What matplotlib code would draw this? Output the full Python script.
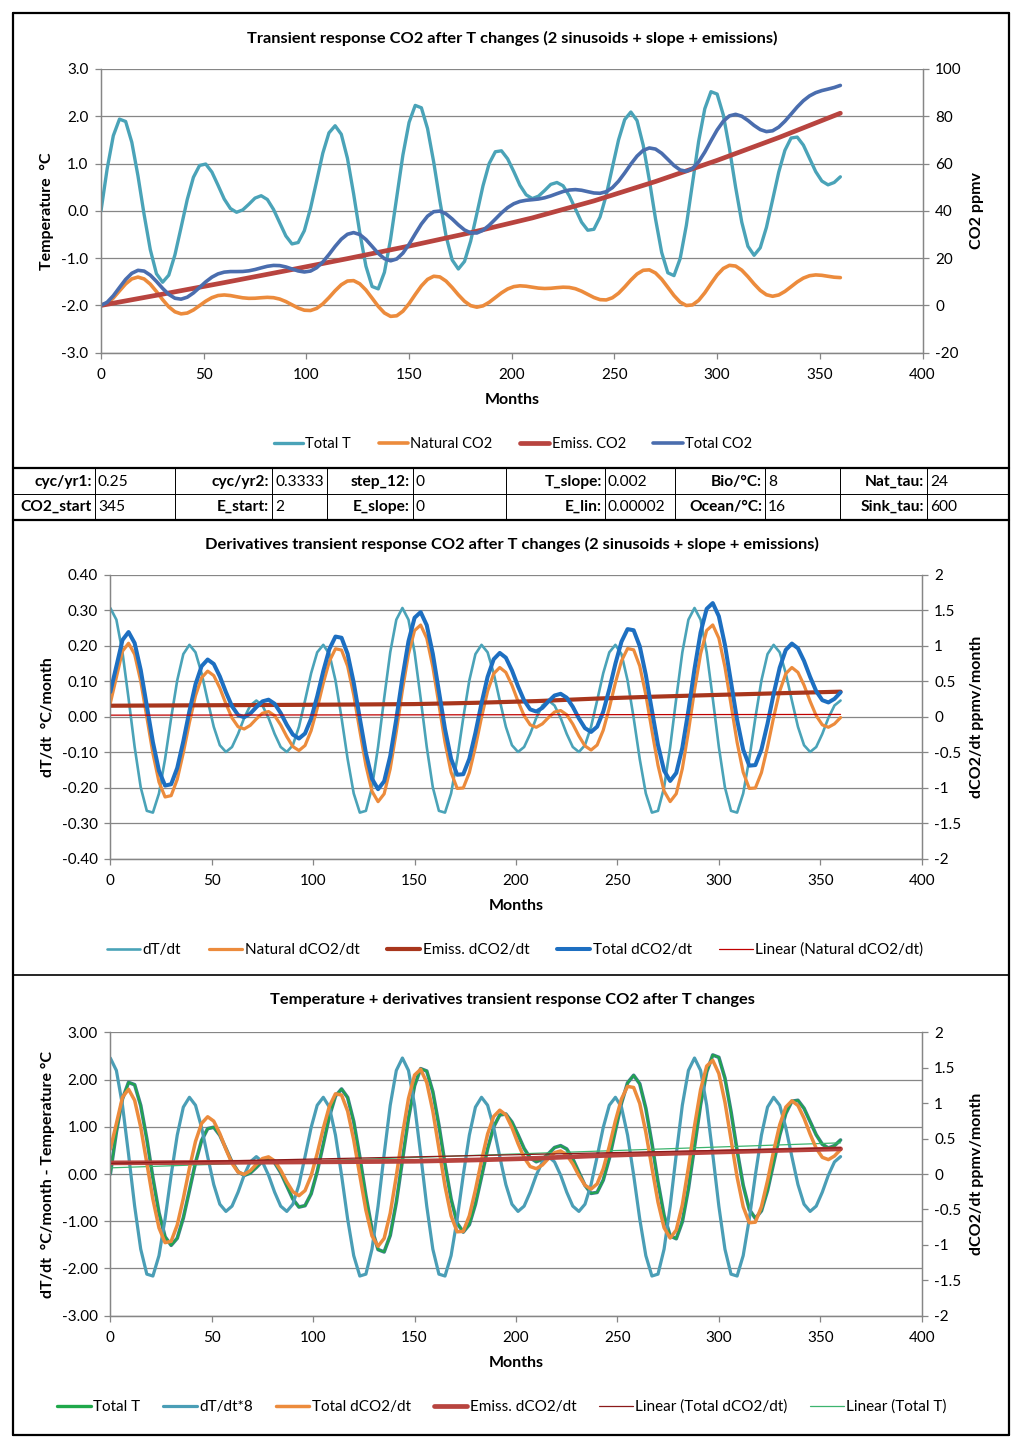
import numpy as np
import matplotlib.pyplot as plt
from matplotlib.lines import Line2D
from matplotlib.ticker import FuncFormatter, MultipleLocator

plt.rcParams['font.family'] = ['Lato', 'DejaVu Sans']
plt.rcParams['font.size'] = 10
plt.rcParams['lines.solid_joinstyle'] = 'round'
plt.rcParams['lines.solid_capstyle'] = 'round'

# ---- values (every 3 months) ----
months = np.arange(0, 361, 3)

total_t = [0.00, 0.89, 1.59, 1.94, 1.89, 1.45, 0.74, -0.08, -0.82, -1.33,
           -1.51, -1.36, -0.93, -0.35, 0.24, 0.71, 0.96, 0.99, 0.82, 0.54,
           0.25, 0.05, -0.03, 0.02, 0.14, 0.27, 0.32, 0.24, 0.03, -0.25,
           -0.53, -0.70, -0.67, -0.42, 0.05, 0.63, 1.22, 1.65, 1.80, 1.62,
           1.11, 0.36, -0.46, -1.17, -1.60, -1.65, -1.30, -0.60, 0.29, 1.18,
           1.87, 2.23, 2.18, 1.74, 1.03, 0.21, -0.53, -1.04, -1.23, -1.07,
           -0.64, -0.06, 0.53, 1.00, 1.25, 1.27, 1.10, 0.83, 0.54, 0.34,
           0.26, 0.31, 0.43, 0.56, 0.60, 0.53, 0.32, 0.04, -0.24, -0.41,
           -0.39, -0.13, 0.33, 0.92, 1.50, 1.93, 2.09, 1.91, 1.39, 0.65,
           -0.17, -0.88, -1.31, -1.37, -1.01, -0.31, 0.58, 1.47, 2.16, 2.52,
           2.47, 2.03, 1.32, 0.50, -0.24, -0.75, -0.94, -0.78, -0.35, 0.23,
           0.82, 1.28, 1.54, 1.56, 1.39, 1.11, 0.83, 0.63, 0.55, 0.60, 0.72]

dt_dt = [0.307, 0.274, 0.182, 0.052, -0.085, -0.199, -0.265, -0.270, -0.216, -0.119,
         -0.003, 0.103, 0.177, 0.203, 0.182, 0.123, 0.046, -0.028, -0.080, -0.099,
         -0.085, -0.048, -0.003, 0.032, 0.046, 0.032, -0.003, -0.048, -0.085, -0.099,
         -0.080, -0.028, 0.046, 0.123, 0.182, 0.203, 0.177, 0.103, -0.003, -0.119,
         -0.216, -0.270, -0.265, -0.199, -0.085, 0.052, 0.182, 0.274, 0.307, 0.274,
         0.182, 0.052, -0.085, -0.199, -0.265, -0.270, -0.216, -0.119, -0.003, 0.103,
         0.177, 0.203, 0.182, 0.123, 0.046, -0.028, -0.080, -0.099, -0.085, -0.048,
         -0.003, 0.032, 0.046, 0.032, -0.003, -0.048, -0.085, -0.099, -0.080, -0.028,
         0.046, 0.123, 0.182, 0.203, 0.177, 0.103, -0.003, -0.119, -0.216, -0.270,
         -0.265, -0.199, -0.085, 0.052, 0.182, 0.274, 0.307, 0.274, 0.182, 0.052,
         -0.085, -0.199, -0.265, -0.270, -0.216, -0.119, -0.003, 0.103, 0.177, 0.203,
         0.182, 0.123, 0.046, -0.028, -0.080, -0.099, -0.085, -0.048, -0.003, 0.032, 0.046]

natural_co2 = [0.00, 0.87, 3.15, 6.16, 9.11, 11.22, 11.99, 11.19, 9.00, 5.87,
               2.45, -0.59, -2.69, -3.57, -3.23, -1.92, -0.08, 1.79, 3.29, 4.18,
               4.42, 4.17, 3.68, 3.22, 2.99, 3.04, 3.25, 3.41, 3.27, 2.69,
               1.63, 0.26, -1.10, -2.03, -2.16, -1.27, 0.65, 3.30, 6.21, 8.74,
               10.31, 10.49, 9.15, 6.51, 3.08, -0.41, -3.19, -4.63, -4.38, -2.45,
               0.76, 4.60, 8.25, 11.01, 12.34, 12.05, 10.29, 7.55, 4.48, 1.75,
               -0.09, -0.74, -0.19, 1.31, 3.31, 5.32, 6.95, 7.95, 8.29, 8.12,
               7.71, 7.32, 7.15, 7.25, 7.51, 7.71, 7.61, 7.06, 6.02, 4.68,
               3.35, 2.44, 2.32, 3.23, 5.15, 7.82, 10.74, 13.28, 14.86, 15.05,
               13.72, 11.08, 7.65, 4.17, 1.39, -0.04, 0.21, 2.14, 5.35, 9.19,
               12.86, 15.62, 16.95, 16.65, 14.90, 12.16, 9.08, 6.35, 4.51, 3.87,
               4.42, 5.92, 7.91, 9.93, 11.56, 12.56, 12.90, 12.73, 12.32, 11.93, 11.76]

total_co2 = [0.00, 1.34, 4.09, 7.58, 11.00, 13.59, 14.84, 14.52, 12.80, 10.15,
             7.22, 4.66, 3.04, 2.65, 3.48, 5.28, 7.60, 9.97, 11.96, 13.34,
             14.08, 14.32, 14.32, 14.36, 14.63, 15.18, 15.89, 16.55, 16.92, 16.84,
             16.28, 15.42, 14.58, 14.15, 14.53, 15.94, 18.36, 21.53, 24.96, 28.01,
             30.10, 30.80, 29.99, 27.87, 24.97, 22.01, 19.77, 18.86, 19.65, 22.11,
             25.86, 30.24, 34.44, 37.75, 39.64, 39.91, 38.73, 36.56, 34.07, 31.92,
             30.68, 30.63, 31.78, 33.88, 36.49, 39.13, 41.38, 43.01, 43.99, 44.47,
             44.72, 45.00, 45.52, 46.31, 47.27, 48.18, 48.81, 48.99, 48.71, 48.12,
             47.56, 47.43, 48.10, 49.81, 52.54, 56.03, 59.78, 63.15, 65.57, 66.60,
             66.13, 64.35, 61.79, 59.18, 57.29, 56.75, 57.90, 60.73, 64.85, 69.61,
             74.21, 77.90, 80.17, 80.82, 80.02, 78.24, 76.13, 74.38, 73.52, 73.86,
             75.41, 77.91, 80.91, 83.94, 86.59, 88.62, 89.99, 90.87, 91.50, 92.17, 93.06]

nat_dco2 = [0.190, 0.556, 0.925, 1.038, 0.881, 0.502, -0.004, -0.516, -0.920, -1.130,
            -1.111, -0.881, -0.507, -0.082, 0.297, 0.551, 0.645, 0.582, 0.406, 0.184,
            -0.015, -0.140, -0.171, -0.120, -0.029, 0.051, 0.075, 0.017, -0.114, -0.279,
            -0.419, -0.475, -0.404, -0.195, 0.120, 0.475, 0.784, 0.960, 0.942, 0.714,
            0.308, -0.195, -0.685, -1.049, -1.196, -1.086, -0.732, -0.208, 0.374, 0.887,
            1.217, 1.295, 1.108, 0.703, 0.173, -0.360, -0.782, -1.009, -1.003, -0.786,
            -0.423, -0.008, 0.362, 0.609, 0.696, 0.627, 0.446, 0.219, 0.016, -0.113,
            -0.147, -0.099, -0.010, 0.068, 0.089, 0.030, -0.102, -0.269, -0.410, -0.468,
            -0.397, -0.189, 0.125, 0.480, 0.788, 0.963, 0.945, 0.717, 0.310, -0.193,
            -0.683, -1.047, -1.195, -1.084, -0.731, -0.207, 0.375, 0.888, 1.218, 1.296,
            1.108, 0.703, 0.173, -0.360, -0.782, -1.009, -1.003, -0.786, -0.423, -0.008,
            0.362, 0.609, 0.696, 0.627, 0.446, 0.219, 0.016, -0.113, -0.147, -0.099, -0.010]

total_dco2 = [0.350, 0.713, 1.083, 1.196, 1.040, 0.661, 0.155, -0.356, -0.760, -0.969,
              -0.950, -0.720, -0.345, 0.080, 0.459, 0.714, 0.808, 0.746, 0.570, 0.348,
              0.150, 0.025, -0.005, 0.046, 0.137, 0.218, 0.242, 0.185, 0.054, -0.111,
              -0.250, -0.306, -0.234, -0.025, 0.290, 0.646, 0.956, 1.132, 1.115, 0.887,
              0.482, -0.020, -0.510, -0.873, -1.020, -0.909, -0.554, -0.030, 0.553, 1.066,
              1.397, 1.477, 1.292, 0.888, 0.360, -0.171, -0.591, -0.816, -0.809, -0.590,
              -0.225, 0.192, 0.564, 0.812, 0.901, 0.834, 0.655, 0.430, 0.231, 0.105,
              0.075, 0.127, 0.219, 0.301, 0.325, 0.270, 0.142, -0.022, -0.159, -0.213,
              -0.139, 0.073, 0.390, 0.749, 1.060, 1.237, 1.221, 0.996, 0.591, 0.090,
              -0.397, -0.758, -0.904, -0.791, -0.435, 0.091, 0.676, 1.190, 1.523, 1.604,
              1.418, 1.015, 0.488, -0.043, -0.463, -0.688, -0.680, -0.460, -0.095, 0.322,
              0.694, 0.944, 1.033, 0.966, 0.788, 0.563, 0.362, 0.235, 0.203, 0.254, 0.345]

# emissions are smooth, read every 30 months
emiss_months = [0, 30, 60, 90, 120, 150, 180, 210, 240, 270, 300, 330, 360]
emiss_co2 = [0, 4.77, 9.65, 14.66, 19.79, 25.1, 30.77, 37.01, 44.21, 52.41, 61.35, 70.99, 81.3]
emiss_dco2 = [0.157, 0.161, 0.165, 0.169, 0.174, 0.180, 0.198, 0.222, 0.258, 0.286, 0.310, 0.333, 0.355]

# trend lines (Excel "Linear"), end points
trend_months = [0, 360]
lin_nat_dco2 = [0.024, 0.034]
lin_total_dco2 = [0.15, 0.37]
lin_total_t = [0.13, 0.66]

# parameter table
row1_labels = ['cyc/yr1:', 'cyc/yr2:', 'step_12:', 'T_slope:', 'Bio/°C:', 'Nat_tau:']
row1_values = ['0.25', '0.3333', '0', '0.002', '8', '24']
row2_labels = ['CO2_start', 'E_start:', 'E_slope:', 'E_lin:', 'Ocean/°C:', 'Sink_tau:']
row2_values = ['345', '2', '0', '0.00002', '16', '600']

# ---- figure ----
W, H = 1023, 1445
fig = plt.figure(figsize=(W / 100, H / 100), dpi=100)
GRAY = '#868686'

TEAL = '#4AA3B8'
ORANGE = '#EC8B3C'
RED = '#B8443F'
BLUE1 = '#4A6DAE'
BROWN = '#A8361C'
BLUE2 = '#1D6FC1'
GREEN = '#1FA84A'


def fx(x):
    return x / W


def fy(y):
    return 1 - y / H


def make_axes(x0, x1, y0, y1, ylim, ystep, yfmt, ylim2, ystep2, yfmt2, ylab, ylab2):
    ax = fig.add_axes([fx(x0), fy(y1), (x1 - x0) / W, (y1 - y0) / H])
    ax2 = ax.twinx()
    ax.set_xlim(0, 400)
    ax.xaxis.set_major_locator(MultipleLocator(50))
    ax.set_ylim(*ylim)
    ax.yaxis.set_major_locator(MultipleLocator(ystep))
    ax.yaxis.set_major_formatter(FuncFormatter(yfmt))
    ax2.set_ylim(*ylim2)
    ax2.yaxis.set_major_locator(MultipleLocator(ystep2))
    ax2.yaxis.set_major_formatter(FuncFormatter(yfmt2))
    ax.yaxis.grid(True, color=GRAY, lw=0.9)
    ax.set_axisbelow(True)
    for a in (ax, ax2):
        a.spines['top'].set_visible(False)
        for s in ('left', 'right', 'bottom'):
            a.spines[s].set_color(GRAY)
            a.spines[s].set_linewidth(0.9)
        a.tick_params(colors=GRAY, labelcolor='black', length=4, width=0.9,
                      labelsize=11, pad=5)
    ax.tick_params(axis='x', pad=7)
    ax.set_xlabel('Months', fontweight='bold', fontsize=11.5, labelpad=8)
    ax.set_ylabel(ylab, fontweight='bold', fontsize=11.5, labelpad=5)
    ax2.set_ylabel(ylab2, fontweight='bold', fontsize=11.5, labelpad=6)
    return ax, ax2


f1 = lambda v, p: '%.1f' % v
f2 = lambda v, p: '%.2f' % v
fi = lambda v, p: '%d' % round(v)
fg = lambda v, p: ('%g' % v) if abs(v) > 1e-9 else '0'

# borders
def hline(y, lw, x0=13, x1=1009):
    fig.add_artist(Line2D([fx(x0), fx(x1)], [fy(y), fy(y)], color='black', lw=lw))


def vline(x, y0, y1, lw):
    fig.add_artist(Line2D([fx(x), fx(x)], [fy(y0), fy(y1)], color='black', lw=lw))


hline(13, 1.6)
hline(1435, 1.6)
vline(13, 13, 1435, 1.6)
vline(1009, 13, 1435, 1.6)
hline(468, 1.6)
hline(494, 0.7)
hline(520, 1.6)
hline(975, 1.2)
for x in [95, 175, 272, 327, 413, 506, 605, 675, 765, 840, 927]:
    vline(x, 468, 520, 0.7)

cell_edges = [95, 272, 413, 605, 765, 927]
for ex, lab, val in zip(cell_edges, row1_labels, row1_values):
    fig.text(fx(ex - 3), fy(482), lab, ha='right', va='center', fontweight='bold', fontsize=11.2)
    fig.text(fx(ex + 3), fy(482), val, ha='left', va='center', fontsize=11.2)
for ex, lab, val in zip(cell_edges, row2_labels, row2_values):
    fig.text(fx(ex - 3), fy(507), lab, ha='right', va='center', fontweight='bold', fontsize=11.2)
    fig.text(fx(ex + 3), fy(507), val, ha='left', va='center', fontsize=11.2)

# ---- chart 1 ----
fig.text(fx(512), fy(38), 'Transient response CO2 after T changes (2 sinusoids + slope + emissions)',
         ha='center', va='center', fontweight='bold', fontsize=11.8)
ax, ax2 = make_axes(101, 922.5, 69, 352.7, (-3, 3), 1.0, f1, (-20, 100), 20, fi,
                    'Temperature  °C', 'CO2 ppmv')
h1, = ax.plot(months, total_t, color=TEAL, lw=2.4)
h2, = ax2.plot(months, natural_co2, color=ORANGE, lw=2.6)
h3, = ax2.plot(emiss_months, emiss_co2, color=RED, lw=3.4)
h4, = ax2.plot(months, total_co2, color=BLUE1, lw=2.6)
fig.legend([h1, h2, h3, h4], ['Total T', 'Natural CO2', 'Emiss. CO2', 'Total CO2'],
           loc='center', bbox_to_anchor=(fx(513), fy(444)), ncol=4, frameon=False,
           fontsize=10.5, handlelength=2.0, handletextpad=0.15, columnspacing=1.9)

# ---- chart 2 ----
fig.text(fx(512), fy(544), 'Derivatives transient response CO2 after T changes (2 sinusoids + slope + emissions)',
         ha='center', va='center', fontweight='bold', fontsize=11.8)
ax, ax2 = make_axes(110.3, 921.7, 575, 858.7, (-0.4, 0.4), 0.1, f2, (-2, 2), 0.5, fg,
                    'dT/dt  °C/month', 'dCO2/dt ppmv/month')
h1, = ax.plot(months, dt_dt, color=TEAL, lw=1.9)
h2, = ax2.plot(months, nat_dco2, color=ORANGE, lw=2.3)
h3, = ax2.plot(emiss_months, emiss_dco2, color=BROWN, lw=3.0)
h4, = ax2.plot(months, total_dco2, color=BLUE2, lw=2.9)
h5, = ax2.plot(trend_months, lin_nat_dco2, color='#C00000', lw=0.9)
fig.legend([h1, h2, h3, h4, h5],
           ['dT/dt', 'Natural dCO2/dt', 'Emiss. dCO2/dt', 'Total dCO2/dt', 'Linear (Natural dCO2/dt)'],
           loc='center', bbox_to_anchor=(fx(515), fy(950)), ncol=5, frameon=False,
           fontsize=11, handlelength=2.2, handletextpad=0.15, columnspacing=1.8)

# ---- chart 3 ----
fig.text(fx(512), fy(1000), 'Temperature + derivatives transient response CO2 after T changes',
         ha='center', va='center', fontweight='bold', fontsize=11.8)
ax, ax2 = make_axes(110.3, 921.7, 1032.3, 1315.7, (-3, 3), 1.0, f2, (-2, 2), 0.5, fg,
                    'dT/dt  °C/month - Temperature °C', 'dCO2/dt ppmv/month')
ax.plot(months, total_t, color='#3C7F8A', lw=2.6)
h1, = ax.plot(months, total_t, color=GREEN, lw=1.3)
h2, = ax.plot(months, np.array(dt_dt) * 8, color='#4A9EB6', lw=2.3)
h6, = ax.plot(trend_months, lin_total_t, color='#3CB46E', lw=0.9)
h3, = ax2.plot(months, total_dco2, color=ORANGE, lw=2.5)
h4, = ax2.plot(emiss_months, emiss_dco2, color=RED, lw=3.4)
h5, = ax2.plot(trend_months, lin_total_dco2, color='#8B1A1A', lw=0.9)
leg_h1 = Line2D([], [], color=GREEN, lw=2.4)
fig.legend([leg_h1, h2, h3, h4, h5, h6],
           ['Total T', 'dT/dt*8', 'Total dCO2/dt', 'Emiss. dCO2/dt', 'Linear (Total dCO2/dt)', 'Linear (Total T)'],
           loc='center', bbox_to_anchor=(fx(502), fy(1407)), ncol=6, frameon=False,
           fontsize=11, handlelength=2.2, handletextpad=0.15, columnspacing=1.5)

fig.savefig('out.png', dpi=100)
